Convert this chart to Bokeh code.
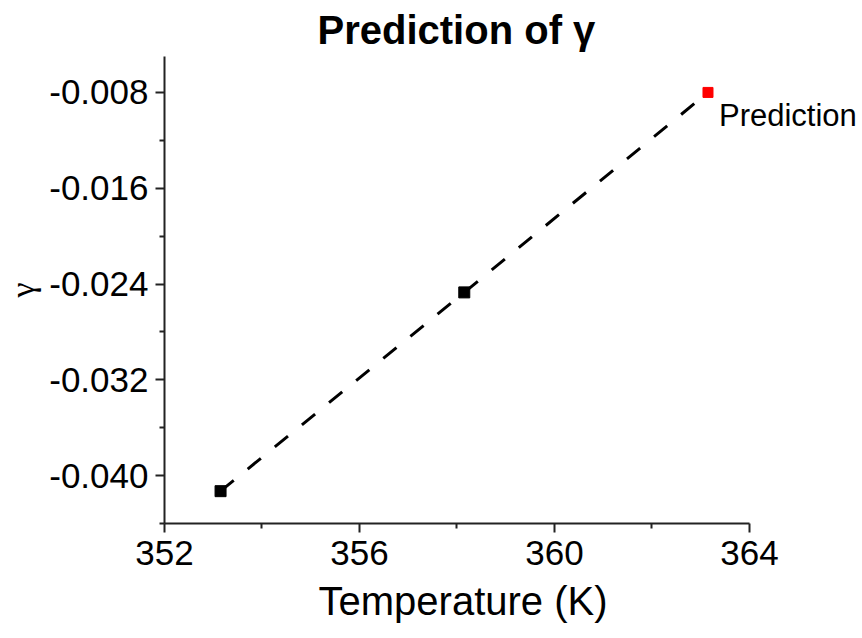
from bokeh.plotting import figure
from bokeh.models import Range1d, FixedTicker, PrintfTickFormatter, Label, Title
from bokeh.embed import file_html
from bokeh.resources import INLINE

# Data
temps = [353.15, 358.15, 363.15]
gammas = [-0.0413, -0.0247, -0.0080]
measured_T = [353.15, 358.15]
measured_g = [-0.0413, -0.0247]
pred_T = [363.15]
pred_g = [-0.0080]
pred_label = "Prediction"
x_ticks = [352, 356, 360, 364]
x_minor = [354, 358, 362]
y_ticks = [-0.040, -0.032, -0.024, -0.016, -0.008]
y_minor = [-0.044, -0.036, -0.028, -0.020, -0.012]

FONT = "Liberation Sans"

# frame extends to the right edge so the "Prediction" label is not clipped;
# the x axis itself is bounded to 352..364
p = figure(width=862, height=638, output_backend="svg", toolbar_location=None,
           x_range=Range1d(352, 366.32), y_range=Range1d(-0.044, -0.005),
           min_border_left=164, min_border_right=0, min_border_top=51,
           min_border_bottom=115)

p.outline_line_color = None
p.xgrid.visible = False
p.ygrid.visible = False

p.title.text = "Prediction of γ"
p.title.align = "left"
p.title.offset = 153
p.title.text_font = FONT
p.title.text_font_size = "40px"
p.title.text_font_style = "bold"
p.title.text_color = "black"

p.xaxis.ticker = FixedTicker(ticks=x_ticks, minor_ticks=x_minor)
p.xaxis.bounds = (352, 364)
p.yaxis.ticker = FixedTicker(ticks=y_ticks, minor_ticks=y_minor)
p.yaxis.formatter = PrintfTickFormatter(format="%.3f")
p.yaxis.axis_label = "γ"

for ax in (p.xaxis, p.yaxis):
    ax.axis_line_width = 2
    ax.axis_line_color = "#222222"
    ax.major_tick_line_width = 2
    ax.minor_tick_line_width = 2
    ax.major_tick_line_color = "#222222"
    ax.minor_tick_line_color = "#222222"
    ax.major_tick_out = 9
    ax.major_tick_in = 0
    ax.minor_tick_out = 5
    ax.minor_tick_in = 0
    ax.major_label_text_font = FONT
    ax.major_label_text_font_size = "35px"
    ax.major_label_text_color = "black"
    ax.axis_label_text_color = "black"

p.xaxis.major_label_standoff = 8
p.yaxis.major_label_standoff = 7
p.yaxis.axis_label_standoff = 5
p.yaxis.axis_label_text_font = "Liberation Serif"
p.yaxis.axis_label_text_font_size = "34px"
p.yaxis.axis_label_text_font_style = "normal"

xlabel = Title(text="Temperature (K)", align="left", offset=154,
               text_font=FONT, text_font_size="40px", text_font_style="normal",
               text_color="black", standoff=19)
p.add_layout(xlabel, "below")

p.line(temps, gammas, line_color="black", line_width=3, line_dash="17 18")
p.scatter(measured_T, measured_g, marker="square", size=11, fill_color="black",
          line_color="black")
p.scatter(pred_T, pred_g, marker="square", size=10, fill_color="red",
          line_color="red")

lbl = Label(x=pred_T[0], y=pred_g[0], text=pred_label, x_offset=11, y_offset=-23,
            text_baseline="middle", text_align="left", text_font=FONT,
            text_font_size="31px", text_color="black")
p.add_layout(lbl)

open("out.html", "w").write(file_html(p, INLINE))
